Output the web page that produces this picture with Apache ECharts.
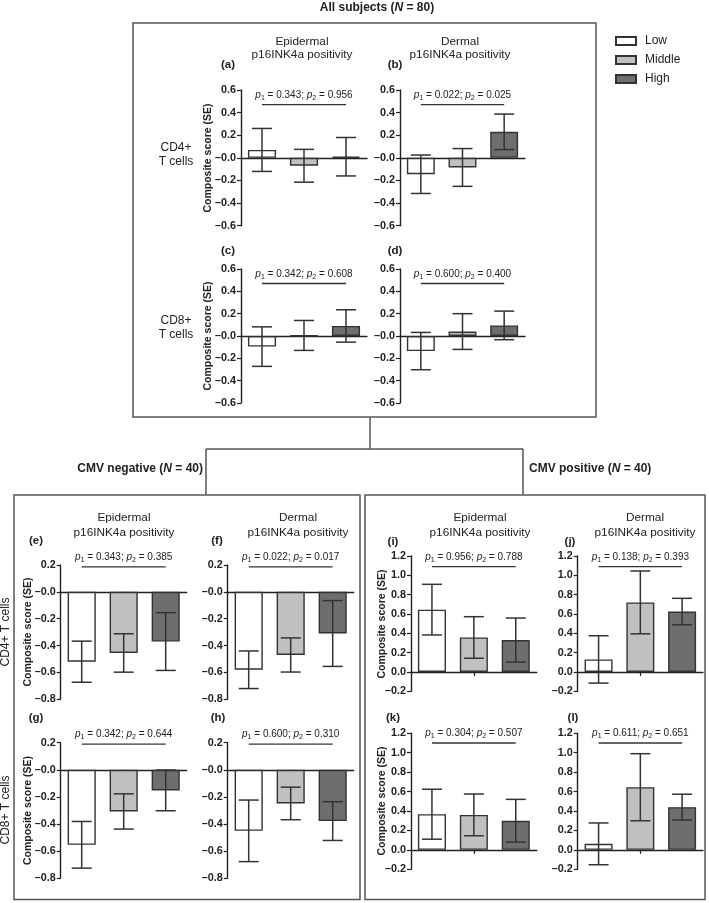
<!DOCTYPE html>
<html><head><meta charset="utf-8">
<script src="https://cdn.jsdelivr.net/npm/echarts@6/dist/echarts.min.js"></script>
<style>html,body{margin:0;padding:0;background:#fff}#c{width:709px;height:903px}</style>
</head><body><div id="c"></div>
<script>
// ---------- data ----------
const categories = ['Low', 'Middle', 'High'];
const tickValuesTop = [-0.6, -0.4, -0.2, 0, 0.2, 0.4, 0.6];
const tickValuesNeg = [-0.8, -0.6, -0.4, -0.2, 0, 0.2];
const tickValuesPos = [-0.2, 0, 0.2, 0.4, 0.6, 0.8, 1.0, 1.2];

const meanA = [0.07, -0.07, 0.01];     const seA = [0.19, 0.145, 0.17];
const meanB = [-0.145, -0.085, 0.23];  const seB = [0.17, 0.167, 0.157];
const meanC = [-0.095, 0.005, 0.09];   const seC = [0.177, 0.134, 0.145];
const meanD = [-0.135, 0.04, 0.095];   const seD = [0.167, 0.16, 0.128];
const meanE = [-0.52, -0.455, -0.37];  const seE = [0.153, 0.143, 0.215];
const meanF = [-0.58, -0.47, -0.31];   const seF = [0.14, 0.127, 0.245];
const meanG = [-0.553, -0.307, -0.152];const seG = [0.172, 0.13, 0.15];
const meanH = [-0.45, -0.248, -0.378]; const seH = [0.227, 0.12, 0.143];
const meanI = [0.645, 0.357, 0.33];    const seI = [0.262, 0.215, 0.228];
const meanJ = [0.13, 0.72, 0.625];     const seJ = [0.245, 0.325, 0.137];
const meanK = [0.367, 0.36, 0.30];     const seK = [0.257, 0.215, 0.22];
const meanL = [0.062, 0.645, 0.44];    const seL = [0.215, 0.345, 0.133];

const pA = ['0.343', '0.956']; const pB = ['0.022', '0.025'];
const pC = ['0.342', '0.608']; const pD = ['0.600', '0.400'];
const pE = ['0.343', '0.385']; const pF = ['0.022', '0.017'];
const pG = ['0.342', '0.644']; const pH = ['0.600', '0.310'];
const pI = ['0.956', '0.788']; const pJ = ['0.138', '0.393'];
const pK = ['0.304', '0.507']; const pL = ['0.611', '0.651'];

// ---------- layout / style ----------
const FONT = '"Liberation Sans", Arial, sans-serif';
const INK = '#222';
const fills = ['#ffffff', '#c0c0c0', '#6e6e6e'];

const panels = [
  {id:'a', mean:meanA, se:seA, p:pA, pY:0.47, g:[241,90,126,135.7], ticks:tickValuesTop, negZero:true, xTick:false},
  {id:'b', mean:meanB, se:seB, p:pB, pY:0.47, g:[400,90,125,135.7], ticks:tickValuesTop, negZero:true, xTick:false},
  {id:'c', mean:meanC, se:seC, p:pC, pY:0.47, g:[241,269,126,134], ticks:tickValuesTop, negZero:true, xTick:false},
  {id:'d', mean:meanD, se:seD, p:pD, pY:0.47, g:[400,269,125,134], ticks:tickValuesTop, negZero:true, xTick:false},
  {id:'e', mean:meanE, se:seE, p:pE, pY:0.186, g:[60.7,565,126,134.3], ticks:tickValuesNeg, negZero:true, xTick:true},
  {id:'f', mean:meanF, se:seF, p:pF, pY:0.186, g:[227.7,565,126,134.3], ticks:tickValuesNeg, negZero:true, xTick:true},
  {id:'g', mean:meanG, se:seG, p:pG, pY:0.19, g:[60.7,742.7,126,135.6], ticks:tickValuesNeg, negZero:true, xTick:true},
  {id:'h', mean:meanH, se:seH, p:pH, pY:0.19, g:[227.7,742.7,126,135.6], ticks:tickValuesNeg, negZero:true, xTick:true},
  {id:'i', mean:meanI, se:seI, p:pI, pY:1.09, g:[411,556,125.7,135.3], ticks:tickValuesPos, negZero:false, xTick:true},
  {id:'j', mean:meanJ, se:seJ, p:pJ, pY:1.09, g:[577.7,556,125.3,135.3], ticks:tickValuesPos, negZero:false, xTick:true},
  {id:'k', mean:meanK, se:seK, p:pK, pY:1.1, g:[411,733.3,125.7,136], ticks:tickValuesPos, negZero:false, xTick:true},
  {id:'l', mean:meanL, se:seL, p:pL, pY:1.1, g:[577.7,733.3,125.3,136], ticks:tickValuesPos, negZero:false, xTick:true}
];

function fmt(negZero) {
  return function (v) {
    if (Math.abs(v) < 1e-9) return negZero ? '\u20130.0' : '0.0';
    return (v < 0 ? '\u2013' : '') + Math.abs(v).toFixed(1);
  };
}

const grid = [], xAxis = [], yAxis = [], series = [];
panels.forEach(function (P, i) {
  grid.push({left:P.g[0], top:P.g[1], width:P.g[2], height:P.g[3], containLabel:false, outerBoundsMode:'none'});
  xAxis.push({
    type:'category', gridIndex:i, data:categories, boundaryGap:true,
    axisLine:{show:true, onZero:true, lineStyle:{color:INK, width:1.4}},
    axisTick:{show:P.xTick, alignWithLabel:true, length:4, interval:function(idx){return idx===1;}, lineStyle:{color:INK, width:1.2}},
    axisLabel:{show:false}, splitLine:{show:false}
  });
  const t = P.ticks;
  yAxis.push({
    type:'value', gridIndex:i, min:t[0], max:t[t.length-1], interval:0.2,
    axisLine:{show:true, onZero:false, lineStyle:{color:INK, width:1.4}},
    axisTick:{show:true, length:4, lineStyle:{color:INK, width:1.2}},
    splitLine:{show:false},
    axisLabel:{formatter:fmt(P.negZero), color:INK, fontWeight:'bold', fontSize:10.8, fontFamily:FONT, margin:5}
  });
  categories.forEach(function (name, k) {
    series.push({
      type:'bar', name:name, xAxisIndex:i, yAxisIndex:i, stack:'s'+i, barWidth:'67%',
      data:P.mean.map(function (v, j) { return j === k ? v : '-'; }),
      itemStyle:{color:fills[k], borderColor:'#333', borderWidth:1.4},
      silent:true, animation:false, z:2
    });
  });
  series.push({
    type:'custom', xAxisIndex:i, yAxisIndex:i, silent:true, animation:false, z:5,
    data:P.mean.map(function (m, j) { return [j, m, P.se[j]]; }),
    renderItem:function (params, api) {
      const x = api.value(0), m = api.value(1), s = api.value(2);
      const top = api.coord([x, m + s]), bot = api.coord([x, m - s]);
      const hw = 10, st = {stroke:'#333', lineWidth:1.5};
      return {type:'group', children:[
        {type:'line', shape:{x1:top[0], y1:top[1], x2:bot[0], y2:bot[1]}, style:st},
        {type:'line', shape:{x1:top[0]-hw, y1:top[1], x2:top[0]+hw, y2:top[1]}, style:st},
        {type:'line', shape:{x1:bot[0]-hw, y1:bot[1], x2:bot[0]+hw, y2:bot[1]}, style:st}
      ]};
    }
  });
  series.push({
    type:'custom', xAxisIndex:i, yAxisIndex:i, silent:true, animation:false, z:5,
    data:[[0, P.pY, 2]],
    renderItem:function (params, api) {
      const a = api.coord([api.value(0), api.value(1)]);
      const b = api.coord([api.value(2), api.value(1)]);
      return {type:'group', children:[
        {type:'line', shape:{x1:a[0], y1:a[1], x2:b[0], y2:b[1]}, style:{stroke:'#333', lineWidth:1.3}},
        {type:'text', x:(a[0]+b[0])/2, y:a[1]-3, style:{
          text:'{i|p}{s|1} = ' + P.p[0] + '; {i|p}{s|2} = ' + P.p[1],
          align:'center', verticalAlign:'bottom', fill:INK, fontSize:10, fontFamily:FONT, lineHeight:13,
          rich:{i:{fontStyle:'italic', fontSize:10, fontFamily:FONT, fill:INK, lineHeight:13},
                s:{fontSize:7, fontFamily:FONT, fill:INK, verticalAlign:'bottom', lineHeight:13}}
        }}
      ]};
    }
  });
});

// ---------- annotations ----------
const G = [];
function txt(text, x, y, o) {
  o = o || {};
  G.push({type:'text', x:x, y:y, rotation:o.rot || 0, silent:true, z:10, style:{
    text:text, fill:INK, font:(o.weight || 'normal') + ' ' + (o.size || 11.5) + 'px ' + FONT,
    textAlign:o.align || 'center', textVerticalAlign:'middle', lineHeight:o.lh || 14,
    rich:o.rich
  }});
}
function ln(x1, y1, x2, y2) {
  G.push({type:'line', silent:true, z:1, shape:{x1:x1, y1:y1, x2:x2, y2:y2}, style:{stroke:'#555', lineWidth:1.5}});
}
function box(x1, y1, x2, y2) {
  G.push({type:'rect', silent:true, z:1, shape:{x:x1, y:y1, width:x2-x1, height:y2-y1}, style:{fill:'none', stroke:'#555', lineWidth:1.5}});
}
box(133, 23, 596, 417);
box(14, 495, 360, 899.5);
box(365, 495, 705, 899.5);
ln(370, 417, 370, 449);
ln(206, 449, 523, 449);
ln(206, 449, 206, 495);
ln(523, 449, 523, 495);

const richHead = {b:{fontWeight:'bold', fontSize:12, fontFamily:FONT, fill:INK}, bi:{fontWeight:'bold', fontStyle:'italic', fontSize:12, fontFamily:FONT, fill:INK}};
txt('{b|All subjects (}{bi|N}{b| = 80)}', 377, 8, {rich:richHead});
txt('{b|CMV negative (}{bi|N}{b| = 40)}', 203, 469, {align:'right', rich:richHead});
txt('{b|CMV positive (}{bi|N}{b| = 40)}', 529, 469, {align:'left', rich:richHead});

txt('Epidermal\np16INK4a positivity', 302, 48.5, {size:11.8, lh:13});
txt('Dermal\np16INK4a positivity', 460, 48.5, {size:11.8, lh:13});
txt('Epidermal\np16INK4a positivity', 124, 525, {size:11.8, lh:14.5});
txt('Dermal\np16INK4a positivity', 298, 525, {size:11.8, lh:14.5});
txt('Epidermal\np16INK4a positivity', 480, 525, {size:11.8, lh:14.5});
txt('Dermal\np16INK4a positivity', 645, 525, {size:11.8, lh:14.5});

const letterPos = {a:[228,65], b:[395,65], c:[228,251], d:[395,251], e:[36,541], f:[217,541], g:[36,718], h:[218,718], i:[393,542], j:[570,542], k:[393,718], l:[573,718]};
panels.forEach(function (P) { txt('(' + P.id + ')', letterPos[P.id][0], letterPos[P.id][1], {weight:'bold', size:11.5}); });

txt('CD4+\nT cells', 176, 155, {size:12, lh:14});
txt('CD8+\nT cells', 176, 328, {size:12, lh:14});
txt('CD4+ T cells', 6, 632, {size:12, rot:Math.PI/2});
txt('CD8+ T cells', 6, 810, {size:12, rot:Math.PI/2});

const yName = 'Composite score (SE)';
[[208,158],[208,336],[28,632],[28,810.5],[382,624],[382,801]].forEach(function (p) {
  txt(yName, p[0], p[1], {weight:'bold', size:10.5, rot:Math.PI/2});
});

const chart = echarts.init(document.getElementById('c'), null, {renderer:'canvas'});
chart.setOption({
  backgroundColor:'#fff',
  animation:false,
  textStyle:{fontFamily:FONT},
  legend:{
    data:categories, orient:'vertical', left:610, top:30, itemWidth:20, itemHeight:8, itemGap:7,
    icon:'rect', selectedMode:false,
    textStyle:{fontSize:12, color:INK, fontFamily:FONT, padding:[0,0,0,4]}
  },
  grid:grid, xAxis:xAxis, yAxis:yAxis, series:series, graphic:G
});
</script></body></html>
